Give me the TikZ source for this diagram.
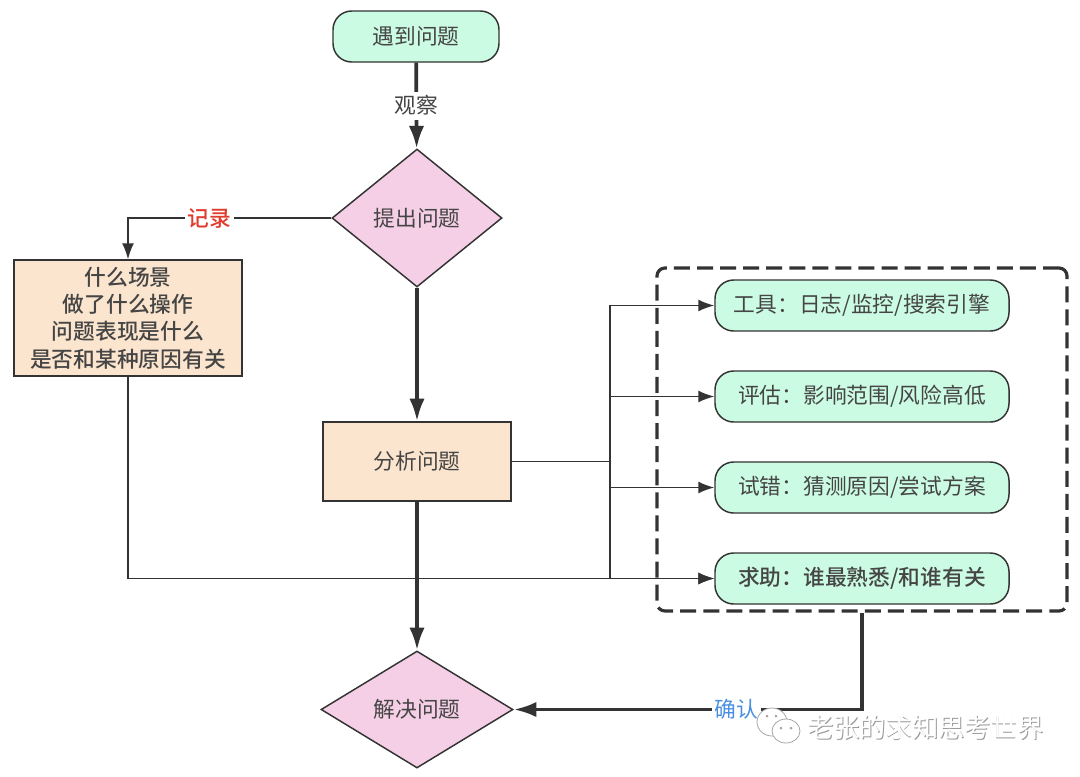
\documentclass[tikz,border=0pt]{standalone}
\usepackage{fontspec}
\setmainfont{Noto Sans CJK SC}
\newfontfamily\mediumcjk[UprightFont=* Medium]{Noto Sans CJK SC}
\usetikzlibrary{arrows.meta,shapes.geometric}
\definecolor{linegray}{HTML}{333333}
\definecolor{textgray}{HTML}{454545}
\definecolor{mintfill}{HTML}{CCFBE3}
\definecolor{pinkfill}{HTML}{F5CFE6}
\definecolor{peachfill}{HTML}{FBE5CE}
\definecolor{redlabel}{HTML}{E03C2E}
\definecolor{bluelabel}{HTML}{4A90E2}
\tikzset{
	basetext/.style={text=textgray,font=\fontsize{16.3pt}{20.5pt}\selectfont,align=center,inner sep=0pt},
	strongtext/.style={font=\fontsize{16.3pt}{20.5pt}\selectfont\mediumcjk},
	pill/.style={basetext,draw=linegray,line width=1.1pt,fill=mintfill,rounded corners=14pt,minimum width=220.5pt,minimum height=38.25pt},
	question/.style={basetext,draw=linegray,line width=1.1pt,fill=pinkfill,diamond},
	block/.style={basetext,draw=linegray,line width=1.1pt,fill=peachfill},
	thinflow/.style={draw=linegray,line width=1.2pt,-{Latex[length=12pt,width=9pt]}},
	thinline/.style={draw=linegray,line width=1.2pt},
	thickflow/.style={draw=linegray,line width=2.8pt,-{Latex[length=17pt,width=11.5pt]}},
	edgelabel/.style={basetext,fill=white,inner xsep=2pt,inner ysep=3pt},
	bubble/.style={draw=gray!70,line width=0.6pt,fill=white},
	eye/.style={fill=gray!70},
	marktext/.style={font=\fontsize{19.7pt}{20pt}\selectfont,inner sep=0pt}
}
\begin{document}
\begin{tikzpicture}[x=0.75pt,y=-0.75pt]
	\useasboundingbox (0,0) rectangle (1080,776);
	\node[draw=linegray,line width=2.4pt,dash pattern=on 12pt off 5.3pt,rounded corners=6pt,minimum width=307.5pt,minimum height=257.25pt] (group) at (862,439.5) {};

	\node[pill,minimum width=124.5pt] (meet) at (416,36.5) {遇到问题};
	\node[question,minimum width=127.5pt,minimum height=103.5pt] (ask) at (417,218) {提出问题};
	\node[block,strongtext,minimum width=171pt,minimum height=87pt] (record) at (128,318) {什么场景\\做了什么操作\\问题表现是什么\\是否和某种原因有关};
	\node[block,minimum width=141pt,minimum height=59.25pt] (analyse) at (417,461.5) {分析问题};
	\node[question,minimum width=144pt,minimum height=87.75pt] (solve) at (417,709.5) {解决问题};

	\node[pill] (tool) at (862,305.5) {工具：日志/监控/搜索引擎};
	\node[pill] (assess) at (862,396.5) {评估：影响范围/风险高低};
	\node[pill] (trial) at (862,487.5) {试错：猜测原因/尝试方案};
	\node[pill,strongtext] (help) at (862,578.5) {求助：谁最熟悉/和谁有关};

	\coordinate (bus) at (610,461.5);

	\draw[thickflow] (meet) -- node[edgelabel] (observe) {观察} (ask);
	\draw[thickflow] (ask) -- (analyse);
	\draw[thickflow] (analyse) -- (solve);
	\draw[thinflow] (ask) -| node[edgelabel,strongtext,pos=0.3,text=redlabel] (note) {记录} (record);
	\draw[thinflow] (record) |- (help);
	\draw[thinline] (analyse) -- (bus);
	\draw[thinflow] (bus) |- (tool);
	\draw[thinflow] (bus) |- (assess);
	\draw[thinflow] (bus) |- (trial);
	\draw[thinflow] (bus) |- (help);
	\draw[thickflow] (group) |- node[edgelabel,pos=0.68,text=bluelabel] (confirm) {确认} (solve);

	\draw[bubble] (772,722) ellipse (15 and 14);
	\draw[bubble] (786,731) ellipse (14 and 12);
	\fill[eye] (767,716) circle (1.5);
	\fill[eye] (776,716) circle (1.5);
	\fill[eye] (781,728) circle (1.5);
	\fill[eye] (791,728) circle (1.5);
	\node[marktext,text=gray!80] (markshade) at (926.3,728.8) {老张的求知思考世界};
	\node[marktext,text=white] (mark) at (925.5,728) {老张的求知思考世界};
\end{tikzpicture}
\end{document}
